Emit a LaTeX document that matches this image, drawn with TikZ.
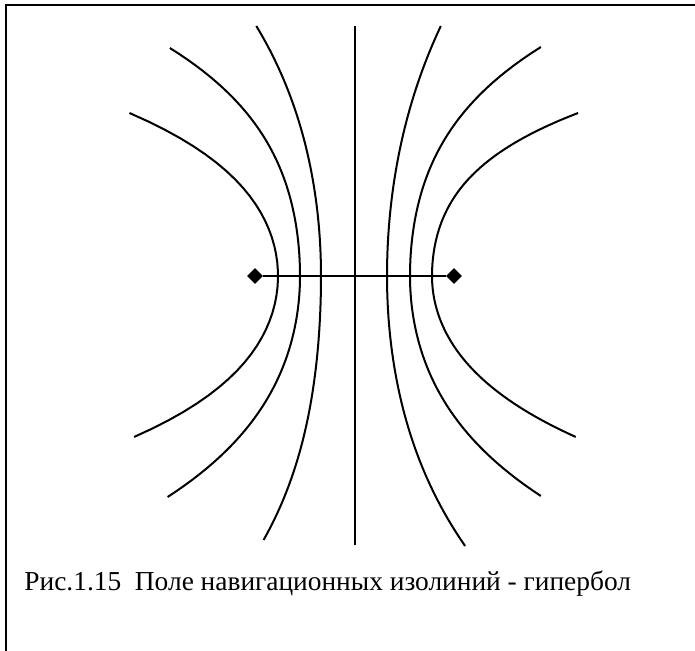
\documentclass[tikz,border=0pt]{standalone}
\usepackage{fontspec}
\setmainfont{Liberation Serif}
\usetikzlibrary{shapes.geometric}

\begin{document}
\begin{tikzpicture}[x=0.5pt,y=-0.5pt,isoline/.style={line width=1pt},focus/.style={diamond,fill=black,inner sep=0pt,minimum width=8pt,minimum height=8pt}]
\useasboundingbox (0,0) rectangle (695,651);
\draw[line width=1pt] (695,5) -- (6,5) -- (6,651);
\node[focus] (F1) at (255,276) {};
\node[focus] (F2) at (454,276) {};
\draw[line width=1.4pt] (F1) -- (F2);
% branches: vertex/side/k2/k4/from/to, offset = k2 u^2 + k4 u^4
\foreach \vx/\sd/\ka/\kb/\lo/\hi in {%
278/-1/40.5/5.8/-1.63/1.61, 300/-1/14.9/1.95/-2.28/0, 300/-1/19.3/1.6/0/2.21,
321/-1/8.6/0.28/-2.5/0, 321/-1/5.8/0.35/0/2.64,
387/1/7.8/0.13/-2.5/0, 387/1/8.6/0.29/0/2.7,
410/1/15/1.9/-2.29/0, 410/1/19.3/1.6/0/2.2,
432/1/30/9.4/-1.63/0, 432/1/42/5.2/0/1.61} {
   \draw[isoline] plot[domain=\lo:\hi,samples=40] ({\vx+\sd*(\ka*\x*\x+\kb*\x*\x*\x*\x)},{276+100*\x});
}
% middle
\draw[isoline] (355,26) -- (355,545);
\node[anchor=base west,inner sep=0pt,font=\fontsize{13.7}{16}\selectfont] (cap) at (24,590) {Рис.1.15\ \ Поле навигационных изолиний - гипербол};
\end{tikzpicture}
\end{document}
